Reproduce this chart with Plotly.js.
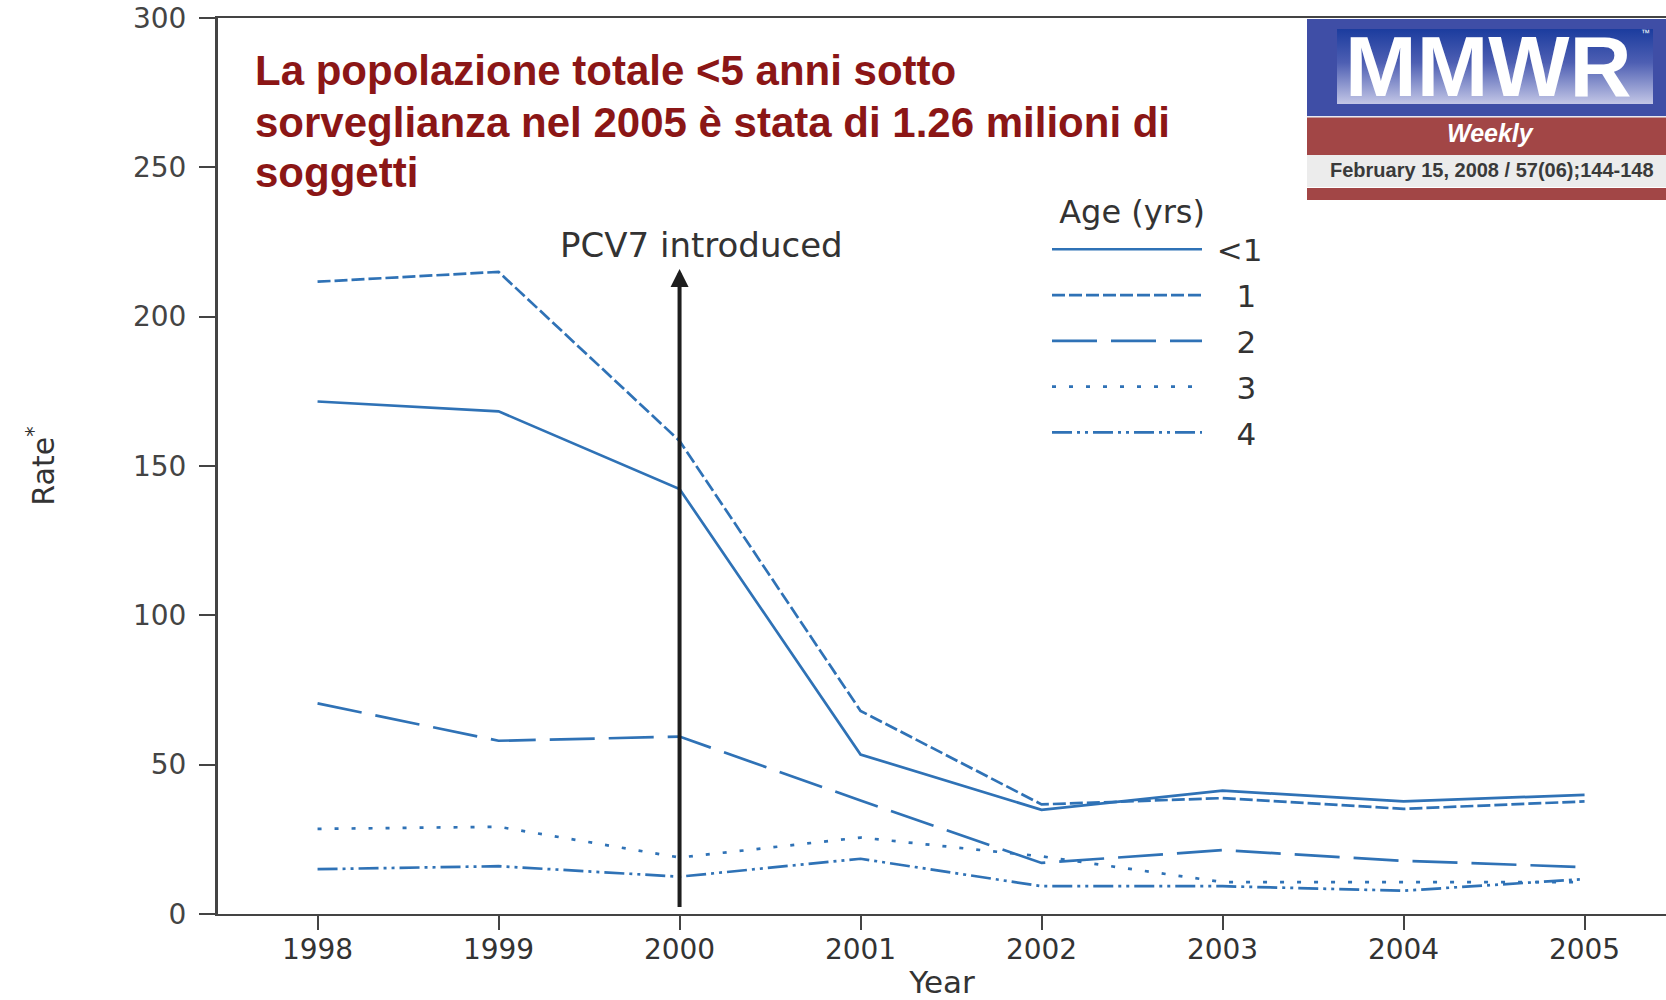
<!DOCTYPE html>
<html><head><meta charset="utf-8">
<script src="https://cdn.plot.ly/plotly-3.0.1.min.js"></script>
<style>html,body{margin:0;padding:0;background:#fff}#chart{width:1666px;height:1000px}</style>
</head><body><div id="chart"></div>
<script>
// ---- data ----
const years = [1998, 1999, 2000, 2001, 2002, 2003, 2004, 2005];
const ageLabels = ['\u00a0&lt;1', '\u00a0\u00a0\u00a01', '\u00a0\u00a0\u00a02', '\u00a0\u00a0\u00a03', '\u00a0\u00a0\u00a04'];
const rateLt1 = [171.6, 168.3, 142.3, 53.4, 34.9, 41.3, 37.7, 39.9];
const rateAge1 = [211.7, 215.0, 158.4, 68.0, 36.7, 38.8, 35.2, 37.7];
const rateAge2 = [70.5, 58.0, 59.4, 38.0, 17.1, 21.4, 17.8, 15.7];
const rateAge3 = [28.5, 29.2, 18.9, 25.6, 19.3, 10.7, 10.7, 10.7];
const rateAge4 = [15.0, 16.0, 12.5, 18.5, 9.3, 9.3, 7.8, 11.7];
const yTicks = [0, 50, 100, 150, 200, 250, 300];
const pcvYear = 2000;
const titleLines = ['La popolazione totale &lt;5 anni sotto',
                    'sorveglianza nel 2005 è stata di 1.26 milioni di',
                    'soggetti'];

// ---- layout helpers (pixel -> paper) ----
const L = 218, R = 1666, T = 18, B = 914;
const px = X => (X - L) / (R - L);
const py = Y => (B - Y) / (B - T);

const blue = '#2f72b6';
const series = [rateLt1, rateAge1, rateAge2, rateAge3, rateAge4];
const dashes = ['solid', '13px,4px', '45px,14px', '4px,13px', '20px,5px,3px,5px,3px,5px'];

const traces = series.map((s, i) => ({
  x: years, y: s, type: 'scatter', mode: 'lines', name: ageLabels[i],
  legendgroup: 'g' + i,
  line: {color: blue, width: 2.7, dash: dashes[i]},
  hoverinfo: 'x+y+name'
}));

// logo background as svg image (text added as annotations)
const logoW = 359, logoH = 181;
const logoSvg = `<svg xmlns="http://www.w3.org/2000/svg" width="${logoW}" height="${logoH}">
<defs><linearGradient id="g" x1="0" y1="0" x2="0" y2="1">
<stop offset="0" stop-color="#1b3c9e"/><stop offset="0.45" stop-color="#4e5fb3"/><stop offset="1" stop-color="#c3c6e6"/>
</linearGradient></defs>
<rect x="0" y="0" width="${logoW}" height="97" fill="#3f4ea6"/>
<rect x="30" y="10" width="316" height="75" fill="url(#g)"/>
<rect x="0" y="97" width="${logoW}" height="1.5" fill="#e8e8f0"/>
<rect x="0" y="98.5" width="${logoW}" height="37.5" fill="#a24646"/>
<rect x="0" y="136" width="${logoW}" height="32" fill="#ececec"/>
<rect x="0" y="169" width="${logoW}" height="12" fill="#a24646"/>
</svg>`;

const titleYs = [71, 122, 172];
const titleAnn = titleLines.map((t, i) => ({
  xref: 'paper', yref: 'paper', x: px(253), y: py(titleYs[i]), text: t, align: 'left',
  showarrow: false, xanchor: 'left', yanchor: 'middle',
  font: {family: 'Liberation Sans, Arial, sans-serif', size: 42, color: '#8b1616', weight: 'bold'}
}));

const layout = {
  width: 1666, height: 1000,
  margin: {l: L, r: 0, t: T, b: 1000 - B},
  paper_bgcolor: '#fff', plot_bgcolor: '#fff',
  showlegend: true,
  font: {family: 'DejaVu Sans, sans-serif', color: '#333'},
  xaxis: {
    range: [1997.45, 2005.45], tickvals: years, ticktext: years.map(String),
    showgrid: false, zeroline: false, showline: true, linecolor: '#444', linewidth: 2,
    mirror: true, ticks: 'outside', ticklen: 14, tickwidth: 2, tickcolor: '#444',
    ticklabelstandoff: -5,
    tickfont: {size: 28, color: '#333'},
    title: {text: 'Year', font: {size: 31, color: '#333'}, standoff: 16}
  },
  yaxis: {
    range: [0, 300], tickvals: yTicks,
    showgrid: false, zeroline: false, showline: true, linecolor: '#444', linewidth: 3,
    ticks: 'outside', ticklen: 16, tickwidth: 2, tickcolor: '#444',
    ticklabelstandoff: 7,
    tickfont: {size: 28, color: '#444'},
    title: {text: 'Rate<sup>*</sup>', font: {size: 30, color: '#333'}, standoff: 70}
  },
  legend: {
    x: px(1047), y: py(181), xanchor: 'left', yanchor: 'top',
    bgcolor: 'rgba(0,0,0,0)', borderwidth: 0,
    itemwidth: 150, tracegroupgap: 2.5,
    font: {size: 31, color: '#333'},
    title: {text: '\u00a0Age (yrs)', font: {size: 32, color: '#333'}}
  },
  images: [{
    source: 'data:image/svg+xml;charset=utf-8,' + encodeURIComponent(logoSvg),
    xref: 'paper', yref: 'paper', x: px(1307), y: py(19),
    sizex: (logoW) / (R - L), sizey: logoH / (B - T),
    xanchor: 'left', yanchor: 'top', sizing: 'stretch', layer: 'above'
  }],
  annotations: [
    {xref: 'x', yref: 'y', x: pcvYear, y: 216, ax: pcvYear, ay: 1.8, axref: 'x', ayref: 'y',
     text: '', showarrow: true, arrowhead: 2, arrowsize: 0.9, arrowwidth: 4, arrowcolor: '#1e1e1e', standoff: 0},
    {xref: 'paper', yref: 'paper', x: px(701), y: py(245), text: 'PCV7 introduced',
     showarrow: false, font: {size: 34, color: '#333'}, xanchor: 'center', yanchor: 'middle'},
    ...titleAnn,
    {xref: 'paper', yref: 'paper', x: px(1488), y: py(66), text: '<b>MMWR</b>', showarrow: false,
     font: {family: 'Liberation Sans, Arial, sans-serif', size: 86, color: '#ffffff'}, xanchor: 'center', yanchor: 'middle'},
    {xref: 'paper', yref: 'paper', x: px(1645), y: py(33), text: '™', showarrow: false,
     font: {family: 'Liberation Sans, Arial, sans-serif', size: 9, color: '#ffffff'}, xanchor: 'center', yanchor: 'middle'},
    {xref: 'paper', yref: 'paper', x: px(1490), y: py(133), text: '<b><i>Weekly</i></b>', showarrow: false,
     font: {family: 'Liberation Sans, Arial, sans-serif', size: 25, color: '#ffffff'}, xanchor: 'center', yanchor: 'middle'},
    {xref: 'paper', yref: 'paper', x: px(1492), y: py(170), text: '<b>February 15, 2008 / 57(06);144-148</b>', showarrow: false,
     font: {family: 'Liberation Sans, Arial, sans-serif', size: 20, color: '#3a3a3a'}, xanchor: 'center', yanchor: 'middle'}
  ]
};

Plotly.newPlot('chart', traces, layout, {displayModeBar: false, staticPlot: true});
</script></body></html>
